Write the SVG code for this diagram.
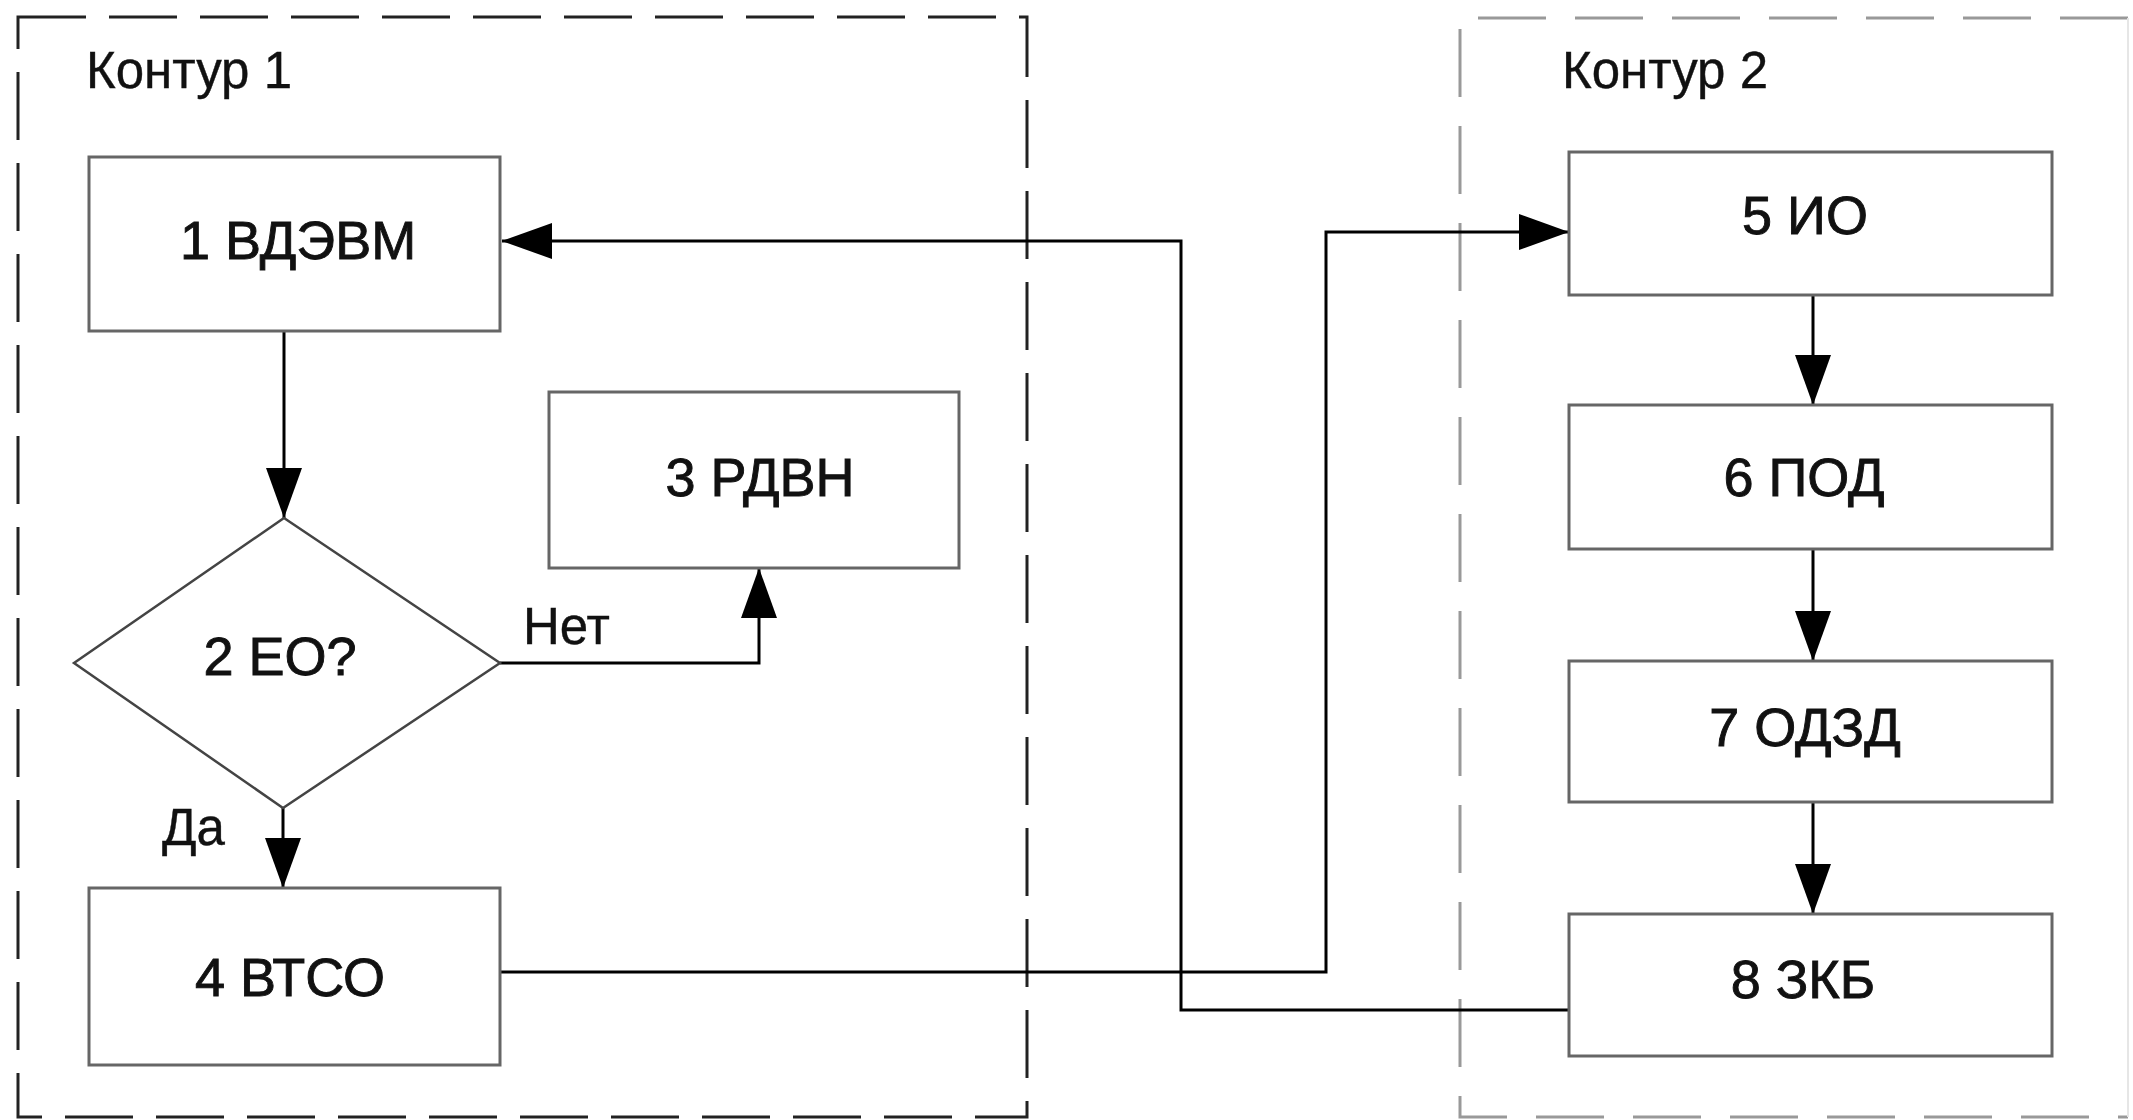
<svg xmlns="http://www.w3.org/2000/svg" width="2133" height="1120" viewBox="0 0 2133 1120">
<style>
.box{fill:#fff;stroke:#666;stroke-width:3}
.dia{fill:#fff;stroke:#444;stroke-width:2.5}
.t{font-family:"Liberation Sans",Arial,sans-serif;font-size:54px;fill:#111;stroke:#111;stroke-width:0.9;text-anchor:middle}
.lbl{font-family:"Liberation Sans",Arial,sans-serif;font-size:51px;fill:#111;stroke:#111;stroke-width:0.4}
.con{fill:none;stroke:#000;stroke-width:3}
.c1{fill:none;stroke:#222;stroke-width:3;stroke-dasharray:68 23}
.c2{fill:none;stroke:#999;stroke-width:3;stroke-dasharray:68 29}
</style>
<defs>
<marker id="arr" markerUnits="userSpaceOnUse" markerWidth="50" markerHeight="36" refX="50" refY="18" orient="auto">
<path d="M0,0 L50,18 L0,36 Z" fill="#000"/>
</marker>
</defs>
<rect width="2133" height="1120" fill="#fff"/>
<g id="contour1">
<rect class="c1" x="18" y="17" width="1009" height="1100"/>
<text class="lbl" x="86" y="88">Контур 1</text>
</g>
<g id="contour2">
<path class="c2" d="M2128,18 L1460,18 L1460,1117 L2128,1117"/>
<line x1="2128" y1="18" x2="2128" y2="1117" stroke="#e6e6e6" stroke-width="2"/>
<text class="lbl" x="1562" y="88">Контур 2</text>
</g>
<g id="connectors">
<line class="con" x1="284" y1="331" x2="284" y2="518" marker-end="url(#arr)"/>
<polyline class="con" points="500,663 759,663 759,568" marker-end="url(#arr)"/>
<line class="con" x1="283" y1="808" x2="283" y2="888" marker-end="url(#arr)"/>
<polyline class="con" points="500,972 1326,972 1326,232 1569,232" marker-end="url(#arr)"/>
<polyline class="con" points="1569,1010 1181,1010 1181,241 502,241" marker-end="url(#arr)"/>
<line class="con" x1="1813" y1="295" x2="1813" y2="405" marker-end="url(#arr)"/>
<line class="con" x1="1813" y1="549" x2="1813" y2="661" marker-end="url(#arr)"/>
<line class="con" x1="1813" y1="802" x2="1813" y2="914" marker-end="url(#arr)"/>
<text class="lbl" x="523" y="644">Нет</text>
<text class="lbl" x="162" y="845">Да</text>
</g>
<g id="n1"><rect class="box" x="89" y="157" width="411" height="174"/><text class="t" x="298" y="259">1 ВДЭВМ</text></g>
<g id="n2"><polygon class="dia" points="284,518 500,663 283,808 74,663"/><text class="t" x="280" y="675">2 ЕО?</text></g>
<g id="n3"><rect class="box" x="549" y="392" width="410" height="176"/><text class="t" x="760" y="496">3 РДВН</text></g>
<g id="n4"><rect class="box" x="89" y="888" width="411" height="177"/><text class="t" x="290" y="996">4 ВТСО</text></g>
<g id="n5"><rect class="box" x="1569" y="152" width="483" height="143"/><text class="t" x="1805" y="234">5 ИО</text></g>
<g id="n6"><rect class="box" x="1569" y="405" width="483" height="144"/><text class="t" x="1804" y="496">6 ПОД</text></g>
<g id="n7"><rect class="box" x="1569" y="661" width="483" height="141"/><text class="t" x="1805" y="746">7 ОДЗД</text></g>
<g id="n8"><rect class="box" x="1569" y="914" width="483" height="142"/><text class="t" x="1803" y="998">8 ЗКБ</text></g>
</svg>
